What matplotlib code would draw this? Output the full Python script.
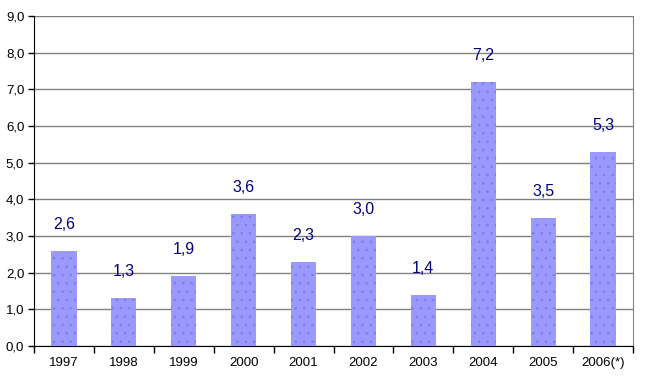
import matplotlib
matplotlib.use("Agg")
import matplotlib.pyplot as plt
import numpy as np

plt.rcParams['font.family'] = ['Liberation Sans', 'DejaVu Sans']
plt.rcParams['hatch.linewidth'] = 0.5

years = ['1997', '1998', '1999', '2000', '2001', '2002', '2003', '2004', '2005', '2006(*)']
values = [2.6, 1.3, 1.9, 3.6, 2.3, 3.0, 1.4, 7.2, 3.5, 5.3]
labels = ['2,6', '1,3', '1,9', '3,6', '2,3', '3,0', '1,4', '7,2', '3,5', '5,3']
yticks = [0, 1, 2, 3, 4, 5, 6, 7, 8, 9]
ytick_labels = ['0,0', '1,0', '2,0', '3,0', '4,0', '5,0', '6,0', '7,0', '8,0', '9,0']

fig = plt.figure(figsize=(6.49, 3.82), dpi=100)
ax = fig.add_axes([34/649, 36/382, (633-34)/649, (346-16)/382])

x = np.arange(len(years))
ax.bar(x, values, width=0.42, color='#9999ff', hatch='..', edgecolor='#7a7ae6', linewidth=0, zorder=3)
for xi, v, lab in zip(x, values, labels):
    ax.annotate(lab, (xi, v), xytext=(0, 19), textcoords='offset points', ha='center', va='center',
                fontsize=11.5, color='#000080')

ax.set_xlim(-0.5, len(years) - 0.5)
ax.set_ylim(0, 9)
ax.set_yticks(yticks)
ax.set_yticklabels(ytick_labels, fontsize=9.5)
ax.set_xticks(x)
ax.set_xticklabels(years, fontsize=9.5)
ax.set_xticks(np.arange(-0.5, len(years), 1), minor=True)
ax.tick_params(axis='x', which='major', length=0, pad=8)
ax.tick_params(axis='x', which='minor', length=5, width=1)
ax.tick_params(axis='y', length=4, width=1, pad=3)
ax.yaxis.grid(True, color='#808080', linewidth=1, zorder=0)
ax.set_axisbelow(True)
ax.spines['top'].set_visible(False)
ax.spines['right'].set_color('#808080')
ax.spines['left'].set_color('black')
ax.spines['bottom'].set_color('black')

fig.savefig('out.png', dpi=100)
